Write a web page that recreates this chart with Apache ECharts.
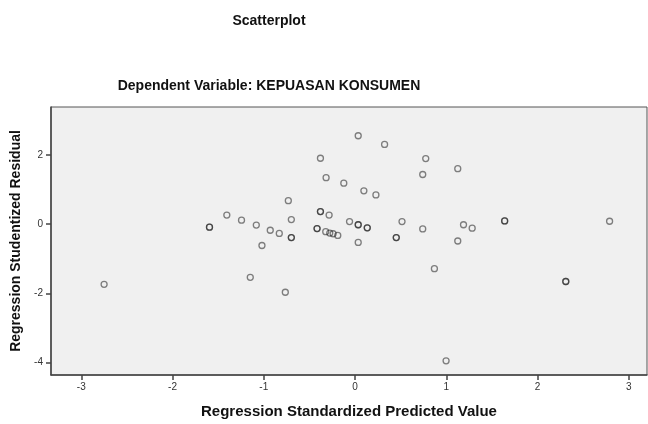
<!DOCTYPE html>
<html>
<head>
<meta charset="utf-8">
<script src="https://cdn.jsdelivr.net/npm/echarts@6/dist/echarts.min.js"></script>
<style>
  html, body { margin: 0; padding: 0; background: #fff; }
  #chart { width: 648px; height: 424px; }
</style>
</head>
<body>
<div id="chart"></div>
<script>
// predicted value / studentized residual, one entry per case (overlapping cases repeated)
var predicted = [
  -2.75, -1.595, -1.595, -1.405, -1.244, -1.148, -1.082, -1.02, -0.929, -0.83,
  -0.764, -0.731, -0.698, -0.698, -0.698, -0.416, -0.416, -0.379, -0.379, -0.379,
  -0.321, -0.317, -0.284, -0.277, -0.24, -0.189, -0.123, -0.06, 0.035, 0.035,
  0.035, 0.035, 0.097, 0.134, 0.134, 0.229, 0.324, 0.452, 0.452, 0.515,
  0.742, 0.742, 0.775, 0.87, 0.998, 1.126, 1.126, 1.189, 1.284, 1.64,
  1.64, 2.31, 2.31, 2.79
]
var residual = [
  -1.74, -0.09, -0.09, 0.26, 0.11, -1.54, -0.03, -0.62, -0.18, -0.27,
  -1.97, 0.675, 0.13, -0.39, -0.39, -0.13, -0.13, 1.9, 0.36, 0.36,
  -0.22, 1.34, 0.26, -0.26, -0.28, -0.33, 1.18, 0.07, 2.55, -0.02,
  -0.02, -0.53, 0.96, -0.11, -0.11, 0.84, 2.3, -0.39, -0.39, 0.07,
  1.43, -0.14, 1.89, -1.29, -3.95, 1.6, -0.49, -0.02, -0.12, 0.09,
  0.09, -1.66, -1.66, 0.08
]
var xTicks = [-3, -2, -1, 0, 1, 2, 3]
var yTicks = [-4, -2, 0, 2]

var points = predicted.map(function(x, i) { return [x, residual[i]] })

var chart = echarts.init(document.getElementById('chart'))
chart.setOption({
  animation: false,
  textStyle: { fontFamily: 'Liberation Sans, Arial, sans-serif' },
  title: [
    {
      text: 'Scatterplot',
      left: 264, top: 9, textAlign: 'center',
      textStyle: { fontSize: 14, fontWeight: 'bold', color: '#111' }
    },
    {
      text: 'Dependent Variable: KEPUASAN KONSUMEN',
      left: 264, top: 74, textAlign: 'center',
      textStyle: { fontSize: 14, fontWeight: 'bold', color: '#111' }
    }
  ],
  grid: {
    left: 51, top: 107, right: 1, bottom: 48,
    show: true,
    backgroundColor: '#f0f0f0',
    borderColor: '#555',
    borderWidth: 1
  },
  xAxis: {
    type: 'value',
    min: -3.332, max: 3.2,
    name: 'Regression Standardized Predicted Value',
    nameLocation: 'middle',
    nameGap: 29,
    nameTextStyle: { fontSize: 15, fontWeight: 'bold', color: '#111' },
    splitLine: { show: false },
    axisLine: { onZero: false, lineStyle: { color: '#444', width: 1.5 } },
    axisTick: { customValues: xTicks, length: 5, lineStyle: { color: '#444', width: 1.5 } },
    axisLabel: { customValues: xTicks, fontSize: 10, color: '#333', margin: 7 }
  },
  yAxis: {
    type: 'value',
    min: -4.36, max: 3.38,
    name: 'Regression Studentized Residual',
    nameLocation: 'middle',
    nameGap: 26,
    nameTextStyle: { fontSize: 14, fontWeight: 'bold', color: '#111' },
    splitLine: { show: false },
    axisLine: { onZero: false, lineStyle: { color: '#444', width: 1.5 } },
    axisTick: { customValues: yTicks, length: 5, lineStyle: { color: '#444', width: 1.5 } },
    axisLabel: { customValues: yTicks, fontSize: 10, color: '#333', margin: 8 }
  },
  series: [{
    type: 'scatter',
    data: points,
    symbol: 'circle',
    symbolSize: 6,
    itemStyle: {
      color: 'rgba(0,0,0,0)',
      borderColor: 'rgba(20,20,20,0.65)',
      borderWidth: 1.3
    }
  }]
})
</script>
</body>
</html>
